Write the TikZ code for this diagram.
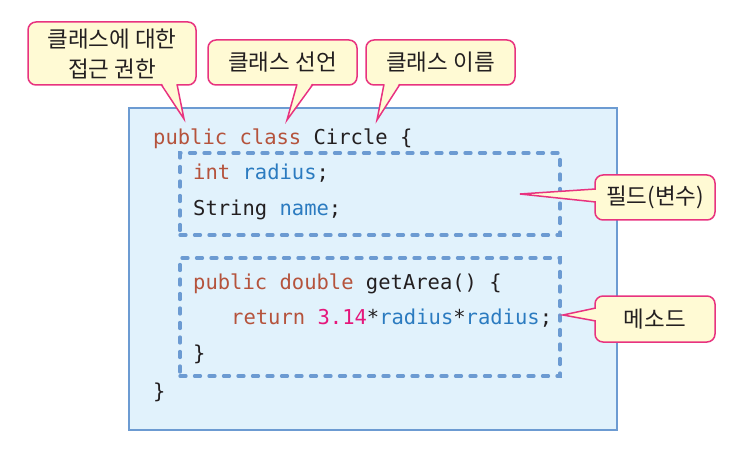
\documentclass[tikz,border=0pt]{standalone}
\usepackage{fontspec}
\newfontfamily\kr{Noto Sans CJK KR}
\newfontfamily\code{DejaVu Sans Mono}
\definecolor{boxfill}{HTML}{E1F2FC}
\definecolor{boxline}{HTML}{6C9BD2}
\definecolor{kw}{HTML}{B5533C}
\definecolor{idc}{HTML}{2B7BC0}
\definecolor{num}{HTML}{E5177B}
\definecolor{txt}{HTML}{231F20}
\definecolor{callline}{HTML}{E8337F}
\definecolor{callfill}{HTML}{FFFAD4}
\tikzset{
  codeline/.style={anchor=base west, inner sep=0pt, font=\code\fontsize{20.5}{24}\selectfont, text=txt},
  callout/.style={draw=callline, fill=callfill, line width=1.5pt, rounded corners=8pt,
    font=\kr\fontsize{22.5}{30}\selectfont, text=txt, align=center, inner sep=0pt},
  pointerfill/.style={fill=callfill},
  pointerline/.style={draw=callline, line width=1.5pt, line join=miter},
  dashbox/.style={draw=boxline, line width=3.3pt, line cap=round, dash pattern=on 6pt off 8.5pt},
}
\newcommand{\kwd}[1]{\textcolor{kw}{#1}}
\newcommand{\idf}[1]{\textcolor{idc}{#1}}
\newcommand{\nmb}[1]{\textcolor{num}{#1}}
\begin{document}
\begin{tikzpicture}[x=1pt,y=-1pt]
\useasboundingbox (0,0) rectangle (736,449);
% main box
\node[draw=boxline, fill=boxfill, line width=2pt, minimum width=488pt, minimum height=322pt, inner sep=0pt] (main) at (372.5,269) {};
% dashed boxes
\node[dashbox, minimum width=380pt, minimum height=82pt, inner sep=0pt] (fields) at (370,194) {};
\node[dashbox, minimum width=380pt, minimum height=118pt, inner sep=0pt] (methods) at (370,317) {};
% code
\node[codeline] (l1) at (153,145) {\kwd{public} \kwd{class} Circle \{};
\node[codeline] (l2) at (193,180) {\kwd{int} \idf{radius};};
\node[codeline] (l3) at (193,215) {String \idf{name};};
\node[codeline] (l4) at (193,289) {\kwd{public} \kwd{double} getArea() \{};
\node[codeline] (l5) at (231,324) {\kwd{return} \nmb{3.14}*\idf{radius}*\idf{radius};};
\node[codeline] (l6) at (193,360) {\}};
\node[codeline] (l7) at (153,398) {\}};
% callouts
\node[callout, minimum width=168pt, minimum height=63pt] (c1) at (112,53.5) {클래스에 대한\\접근 권한};
\node[callout, minimum width=149pt, minimum height=45pt] (c2) at (282.5,62.5) {클래스 선언};
\node[callout, minimum width=149pt, minimum height=45pt] (c3) at (440.5,62.5) {클래스 이름};
\node[callout, minimum width=120pt, minimum height=45pt] (c4) at (655,197.5) {필드(변수)};
\node[callout, minimum width=120pt, minimum height=46pt] (c5) at (655,319) {메소드};
% pointer tips
\coordinate (t1) at (184,119);
\coordinate (t2) at (287,120);
\coordinate (t3) at (377,120);
\coordinate (t4) at (520,194);
\coordinate (t5) at (563,315);
% pointers
\fill[pointerfill] (161,82) -- (t1) -- (177,82) -- cycle;
\draw[pointerline] (161,84.2) -- (t1) -- (177,84.2);
\fill[pointerfill] (297,82) -- (t2) -- (313,82) -- cycle;
\draw[pointerline] (297,84.2) -- (t2) -- (313,84.2);
\fill[pointerfill] (384,82) -- (t3) -- (400,82) -- cycle;
\draw[pointerline] (384,84.2) -- (t3) -- (400,84.2);
\fill[pointerfill] (598,189) -- (t4) -- (598,202) -- cycle;
\draw[pointerline] (595.8,189) -- (t4) -- (595.8,202);
\fill[pointerfill] (598,308) -- (t5) -- (598,321) -- cycle;
\draw[pointerline] (595.8,308) -- (t5) -- (595.8,321);
\end{tikzpicture}
\end{document}
